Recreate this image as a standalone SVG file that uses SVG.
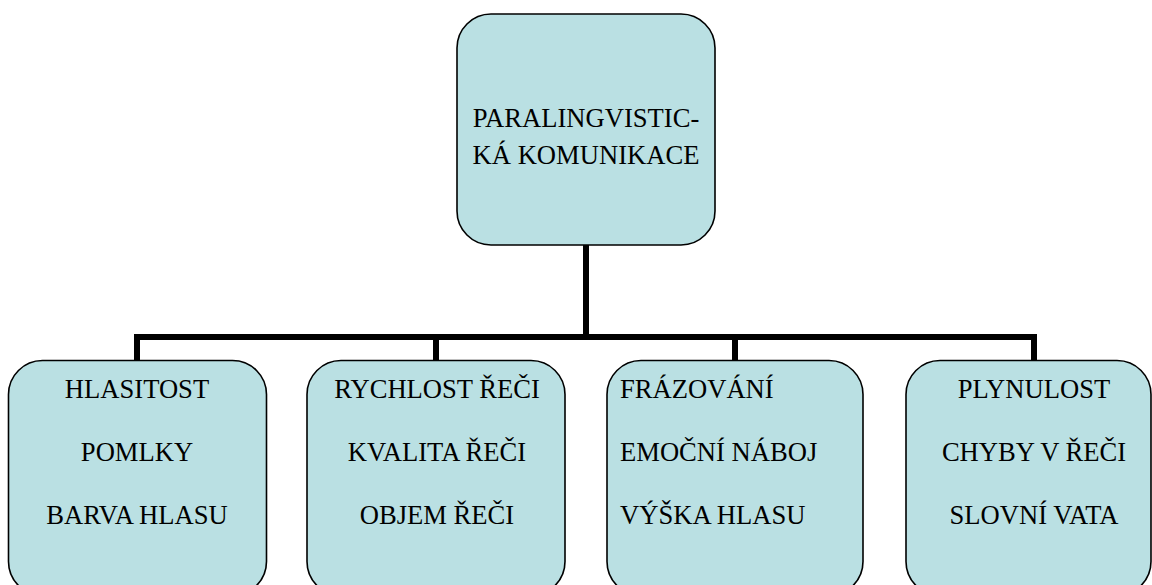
<svg xmlns="http://www.w3.org/2000/svg" width="1152" height="585" viewBox="0 0 1152 585">
<style>
.box{fill:#BAE0E3;stroke:#000;stroke-width:1.6}
.t{font-family:"Liberation Serif","Times New Roman",serif;font-size:26.6px;fill:#000}
.c{text-anchor:middle}
.conn{fill:none;stroke:#000;stroke-width:6}
</style>
<rect width="1152" height="585" fill="#fff"/>
<g id="connectors">
<line class="conn" x1="586" y1="245" x2="586" y2="337"/>
<polyline class="conn" points="137,360 137,337 1034,337 1034,360"/>
<line class="conn" x1="436" y1="337" x2="436" y2="360"/>
<line class="conn" x1="735" y1="337" x2="735" y2="360"/>
</g>
<g id="root">
<rect class="box" x="457" y="14" width="258" height="231" rx="34" ry="34"/>
<text class="t c" x="586" y="127">PARALINGVISTIC-</text>
<text class="t c" x="586" y="164">KÁ KOMUNIKACE</text>
</g>
<g id="n1">
<rect class="box" x="8.5" y="360.5" width="258" height="235" rx="34" ry="34"/>
<text class="t c" x="137" y="398">HLASITOST</text>
<text class="t c" x="137" y="461">POMLKY</text>
<text class="t c" x="137" y="524">BARVA HLASU</text>
</g>
<g id="n2">
<rect class="box" x="307" y="360.5" width="258" height="235" rx="34" ry="34"/>
<text class="t c" x="437" y="398">RYCHLOST ŘEČI</text>
<text class="t c" x="437" y="461">KVALITA ŘEČI</text>
<text class="t c" x="437" y="524">OBJEM ŘEČI</text>
</g>
<g id="n3">
<rect class="box" x="607" y="360.5" width="256" height="235" rx="34" ry="34"/>
<text class="t" x="620" y="398">FRÁZOVÁNÍ</text>
<text class="t" x="620" y="461">EMOČNÍ NÁBOJ</text>
<text class="t" x="620" y="524">VÝŠKA HLASU</text>
</g>
<g id="n4">
<rect class="box" x="906" y="360.5" width="245" height="235" rx="34" ry="34"/>
<text class="t c" x="1034" y="398">PLYNULOST</text>
<text class="t c" x="1034" y="461">CHYBY V ŘEČI</text>
<text class="t c" x="1034" y="524">SLOVNÍ VATA</text>
</g>
</svg>
